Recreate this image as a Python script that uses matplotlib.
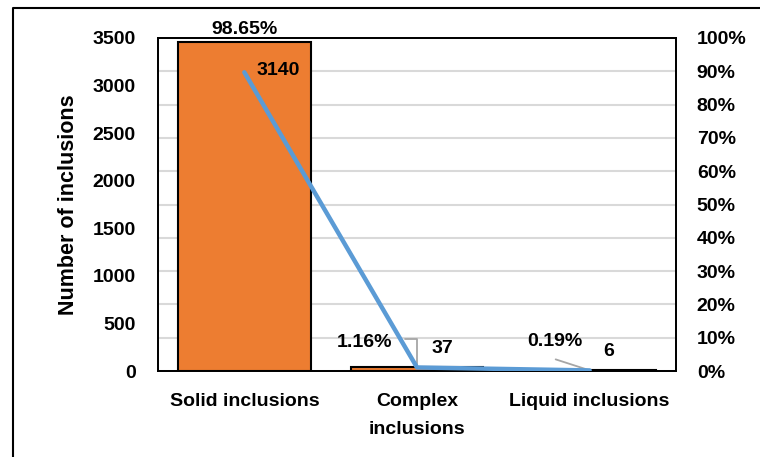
import matplotlib.pyplot as plt
from matplotlib.lines import Line2D
from matplotlib.ticker import PercentFormatter

categories = ["Solid inclusions", "Complex\ninclusions", "Liquid inclusions"]
counts = [3140, 37, 6]
shares = [98.65, 1.16, 0.19]

plt.rcParams['font.family'] = ['Liberation Sans', 'DejaVu Sans']
plt.rcParams['font.weight'] = 'bold'
FS = 14

fig = plt.figure(figsize=(7.6, 4.57), dpi=100)
ax = fig.add_axes([158 / 760, 1 - 371 / 457, (676 - 158) / 760, (371 - 38) / 457])
ax2 = ax.twinx()

# bars + grid live on the percent axis, kept behind the count line
ax2.set_zorder(ax.get_zorder() - 1)
ax.patch.set_visible(False)

x = range(len(categories))
ax2.bar(x, shares, width=0.77, color='#ED7D31', edgecolor='black', linewidth=1.5, zorder=3)
ax2.set_ylim(0, 100)
ax2.set_yticks(range(0, 101, 10))
ax2.yaxis.set_major_formatter(PercentFormatter(decimals=0))
ax2.grid(axis='y', color='#d9d9d9', linewidth=1.5, zorder=0)
ax2.set_axisbelow(True)

ax.plot(x, counts, color='#5B9BD5', linewidth=3.2, solid_capstyle='round', zorder=4)
ax.set_ylim(0, 3500)
ax.set_yticks(range(0, 3501, 500))
ax.set_xlim(-0.5, 2.5)
ax.set_xticks(list(x))
ax.set_xticklabels(categories, fontsize=FS, fontweight='bold', linespacing=1.85)
ax.set_ylabel("Number of inclusions", fontsize=15.5, fontweight='bold', labelpad=10)

for a in (ax, ax2):
    a.tick_params(length=0, labelsize=FS)
    for s in a.spines.values():
        s.set_color('black')
        s.set_linewidth(1.3)
ax.tick_params(axis='y', pad=16)
ax.tick_params(axis='x', pad=16)
ax2.tick_params(axis='y', pad=15)
for lab in ax.get_yticklabels() + ax2.get_yticklabels():
    lab.set_fontweight('bold')

# data labels
lbl = dict(fontsize=FS, fontweight='bold', textcoords='offset pixels', ha='center', va='center')
ax2.annotate(f"{shares[0]:.2f}%", (0, shares[0]), xytext=(0, 13), **lbl)
ax.annotate(f"{counts[0]}", (0, counts[0]), xytext=(34, 2), **lbl)
ax2.annotate(f"{shares[1]:.2f}%", (1, shares[1]), xytext=(-52, 25), **lbl)
ax.annotate(f"{counts[1]}", (1, counts[1]), xytext=(25, 19), **lbl)
ax2.annotate(f"{shares[2]:.2f}%", (2, shares[2]), xytext=(-35, 29), **lbl)
ax.annotate(f"{counts[2]}", (2, counts[2]), xytext=(19, 19), **lbl)

# leader lines from the small percent labels down to their bars
lead = dict(arrowstyle='-', color='#a6a6a6', lw=1.3, shrinkA=0, shrinkB=0)
ax2.annotate("", (1, shares[1]), xytext=(-12, 28), textcoords='offset pixels',
             arrowprops=dict(connectionstyle='angle,angleA=0,angleB=90,rad=0', **lead))
ax2.annotate("", (2, shares[2]), xytext=(-34, 11), textcoords='offset pixels',
             arrowprops=lead)

# outer frame (left and top edges)
fig.add_artist(Line2D([13 / 760, 13 / 760, 1], [0, 1 - 8 / 457, 1 - 8 / 457],
                      color='black', linewidth=1.5, transform=fig.transFigure))

fig.savefig('out.png', dpi=100)
